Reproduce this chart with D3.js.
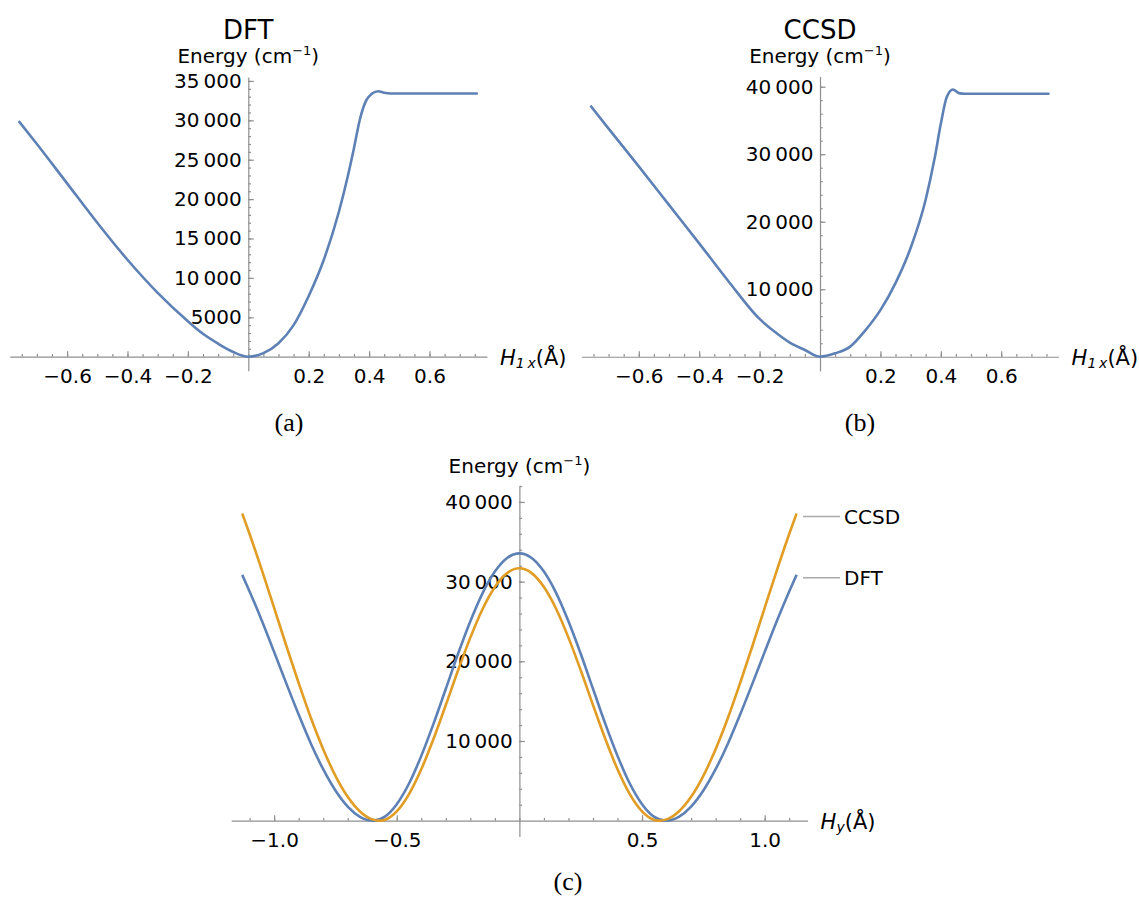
<!DOCTYPE html>
<html>
<head>
<meta charset="utf-8">
<script src="https://cdn.jsdelivr.net/npm/d3@7"></script>
<style>
  body { margin: 0; background: #fff; }
  svg { display: block; }
</style>
</head>
<body>
<div id="chart"></div>
<script>
// (a) DFT scan along H1x
var dftX_a = [-0.76, -0.7, -0.6, -0.5, -0.4, -0.3, -0.2, -0.15, -0.1, -0.05, 0,
    0.05, 0.1, 0.15, 0.2, 0.25, 0.3, 0.33, 0.35, 0.37, 0.39, 0.41, 0.43, 0.45, 0.47, 0.5, 0.6, 0.7, 0.76];
var dftE_a = [29900, 27000, 22000, 17000, 12300, 8100, 4500, 2900, 1650, 600, 0,
    450, 1700, 4000, 7700, 12300, 18400, 23000, 26500, 30200, 32500, 33400, 33700, 33500, 33400, 33400, 33400, 33400, 33400];

// (b) CCSD scan along H1x
var ccsdX_b = [-0.76, -0.7, -0.6, -0.5, -0.4, -0.3, -0.2, -0.15, -0.1, -0.05, 0,
    0.05, 0.1, 0.15, 0.2, 0.25, 0.3, 0.35, 0.38, 0.4, 0.42, 0.44, 0.46, 0.48, 0.6, 0.7, 0.76];
var ccsdE_b = [37200, 33800, 28200, 22500, 16800, 11000, 5600, 3700, 2100, 1000, 0,
    500, 1500, 3900, 6900, 10900, 16100, 23300, 29500, 34500, 38500, 39600, 39050, 38950, 38950, 38950, 38950];

// (c) scans along Hy
var hyX_dft = [-1.13, -1.1, -1.05, -1.0, -0.95, -0.9, -0.85, -0.8, -0.75, -0.7, -0.65, -0.595, -0.55, -0.5,
    -0.45, -0.4, -0.35, -0.3, -0.25, -0.2, -0.15, -0.1, -0.05, 0, 0.05, 0.1, 0.15, 0.2, 0.25, 0.3, 0.35,
    0.4, 0.45, 0.5, 0.55, 0.595, 0.65, 0.7, 0.75, 0.8, 0.85, 0.9, 0.95, 1.0, 1.05, 1.1, 1.13];
var hyE_dft = [30850, 28770, 25100, 21180, 17200, 13320, 9660, 6460, 3790, 1770, 490, 0, 470, 2070,
    4660, 8130, 12180, 16550, 20940, 25020, 28560, 31260, 32970, 33550, 32970, 31260, 28560, 25020, 20940, 16550, 12180,
    8130, 4660, 2070, 470, 0, 490, 1770, 3790, 6460, 9660, 13320, 17200, 21180, 25100, 28770, 30850];

var hyX_ccsd = [-1.13, -1.1, -1.05, -1.0, -0.95, -0.9, -0.85, -0.8, -0.75, -0.7, -0.65, -0.6, -0.57, -0.55, -0.5,
    -0.45, -0.4, -0.35, -0.3, -0.25, -0.2, -0.15, -0.1, -0.05, 0, 0.05, 0.1, 0.15, 0.2, 0.25, 0.3, 0.35,
    0.4, 0.45, 0.5, 0.55, 0.57, 0.6, 0.65, 0.7, 0.75, 0.8, 0.85, 0.9, 0.95, 1.0, 1.05, 1.1, 1.13];
var hyE_ccsd = [38550, 35980, 31450, 26710, 21920, 17280, 12880, 8970, 5630, 2990, 1150, 160, 0, 95, 1170,
    3340, 6450, 10280, 14520, 18870, 22970, 26560, 29320, 31070, 31670, 31070, 29320, 26560, 22970, 18870, 14520, 10280,
    6450, 3340, 1170, 95, 0, 160, 1150, 2990, 5630, 8970, 12880, 17280, 21920, 26710, 31450, 35980, 38550];

var legendNames = ["CCSD", "DFT"];

var blue = "#5E81B5", orange = "#E19C24", axisGray = "#8f8f8f";

var width = 1139, height = 900;
var svg = d3.select("#chart").append("svg")
    .attr("width", width)
    .attr("height", height)
    .style("font-family", "'DejaVu Sans', sans-serif");

svg.append("rect").attr("width", width).attr("height", height).attr("fill", "#fff");

// Mathematica style: 5 or more digits get a thin space
function fmtE(v) {
    var s = String(v);
    return s.length > 4 ? s.slice(0, s.length - 3) + "\u2009" + s.slice(-3) : s;
}

function panel(cfg) {
    var x = d3.scaleLinear().domain(cfg.xDom).range(cfg.xRange);
    var y = d3.scaleLinear().domain(cfg.yDom).range(cfg.yRange);
    var g = svg.append("g");

    // x axis: minor then major
    g.append("g")
        .attr("transform", "translate(0," + y(0) + ")")
        .call(d3.axisBottom(x).tickValues(cfg.xMinor).tickSizeInner(-2.7).tickSizeOuter(0).tickFormat(""))
        .call(s => s.select(".domain").remove());
    g.append("g")
        .attr("transform", "translate(0," + y(0) + ")")
        .call(d3.axisBottom(x).tickValues(cfg.xMajor).tickSizeInner(-5.5).tickSizeOuter(0)
            .tickPadding(12.4).tickFormat(d3.format(".1f")))
        .attr("font-size", 20).attr("font-family", "'DejaVu Sans', sans-serif");

    // y axis
    g.append("g")
        .attr("transform", "translate(" + x(0) + ",0)")
        .call(d3.axisLeft(y).tickValues(cfg.yMinor).tickSizeInner(-2.7).tickSizeOuter(0).tickFormat(""))
        .call(s => s.select(".domain").remove());
    g.append("g")
        .attr("transform", "translate(" + x(0) + ",0)")
        .call(d3.axisLeft(y).tickValues(cfg.yMajor).tickSizeInner(-5.5).tickSizeOuter(0)
            .tickPadding(6.6).tickFormat(fmtE))
        .attr("font-size", 20).attr("font-family", "'DejaVu Sans', sans-serif");

    g.selectAll(".domain, .tick line").attr("stroke", axisGray).attr("stroke-width", 1.2);
    g.selectAll(".tick text").attr("fill", "#000");

    var line = d3.line()
        .x(d => x(d[0]))
        .y(d => y(d[1]))
        .curve(d3.curveMonotoneX);

    cfg.series.forEach(function (s) {
        g.append("path")
            .datum(d3.zip(s.xs, s.ys))
            .attr("fill", "none")
            .attr("stroke", s.color)
            .attr("stroke-width", 2.6)
            .attr("stroke-linejoin", "round")
            .attr("d", line);
    });

    // axis labels
    var cx = x(0);
    var ylab = g.append("text")
        .attr("x", cx).attr("y", cfg.yLabelY)
        .attr("text-anchor", "middle")
        .attr("font-size", 20);
    ylab.append("tspan").text("Energy (cm");
    ylab.append("tspan").attr("font-size", 13).attr("dy", -8).text("\u22121");
    ylab.append("tspan").attr("dy", 8).text(")");

    var xlab = g.append("text")
        .attr("x", cfg.xRange[1] + 13).attr("y", y(0) + 8.5)
        .attr("font-size", 21);
    xlab.append("tspan").attr("font-style", "italic").text("H");
    xlab.append("tspan").attr("font-style", "italic").attr("font-size", 14).attr("dy", 3).text(cfg.sub);
    xlab.append("tspan").attr("dy", -3).text("(\u00C5)");

    if (cfg.title) {
        g.append("text")
            .attr("x", cx).attr("y", 39)
            .attr("text-anchor", "middle")
            .attr("font-size", 26)
            .text(cfg.title);
    }

    g.append("text")
        .attr("x", cfg.capX).attr("y", cfg.capY)
        .attr("text-anchor", "middle")
        .attr("font-family", "'Liberation Serif', serif")
        .attr("font-size", 26)
        .text(cfg.caption);

    return { x: x, y: y, g: g };
}

var minorX1 = d3.range(-0.75, 0.76, 0.05).map(v => Math.round(v * 100) / 100);

panel({
    xDom: [-0.79, 0.79], xRange: [9.7, 486.9],
    yDom: [-1780, 35500], yRange: [370.7, 77],
    xMajor: [-0.6, -0.4, -0.2, 0.2, 0.4, 0.6], xMinor: minorX1,
    yMajor: d3.range(5000, 35001, 5000), yMinor: d3.range(1000, 35001, 1000),
    series: [{ xs: dftX_a, ys: dftE_a, color: blue }],
    title: "DFT", sub: "1\u2009x", yLabelY: 63,
    caption: "(a)", capX: 289, capY: 431
});

panel({
    xDom: [-0.79, 0.79], xRange: [581.4, 1058.6],
    yDom: [-2100, 41500], yRange: [370.9, 76.6],
    xMajor: [-0.6, -0.4, -0.2, 0.2, 0.4, 0.6], xMinor: minorX1,
    yMajor: d3.range(10000, 40001, 10000), yMinor: d3.range(2000, 40001, 2000),
    series: [{ xs: ccsdX_b, ys: ccsdE_b, color: blue }],
    title: "CCSD", sub: "1\u2009x", yLabelY: 63,
    caption: "(b)", capX: 860, capY: 431
});

var pc = panel({
    xDom: [-1.175, 1.175], xRange: [231.2, 807.6],
    yDom: [-2000, 42000], yRange: [836.6, 486],
    xMajor: [-1.0, -0.5, 0.5, 1.0], xMinor: d3.range(-1.1, 1.11, 0.1).map(v => Math.round(v * 10) / 10),
    yMajor: d3.range(10000, 40001, 10000), yMinor: d3.range(2000, 42001, 2000),
    series: [{ xs: hyX_dft, ys: hyE_dft, color: blue }, { xs: hyX_ccsd, ys: hyE_ccsd, color: orange }],
    title: null, sub: "y", yLabelY: 473,
    caption: "(c)", capX: 568, capY: 890
});

// legend placed next to the curve ends
var legendY = [hyE_ccsd[hyE_ccsd.length - 1], hyE_dft[hyE_dft.length - 1]];
legendNames.forEach(function (name, i) {
    var ly = pc.y(legendY[i]) + 3;
    pc.g.append("line")
        .attr("x1", 803).attr("x2", 840)
        .attr("y1", ly).attr("y2", ly)
        .attr("stroke", "#aaa").attr("stroke-width", 1.5);
    pc.g.append("text")
        .attr("x", 844).attr("y", ly)
        .attr("dy", "0.36em")
        .attr("font-size", 20)
        .text(name);
});
</script>
</body>
</html>
